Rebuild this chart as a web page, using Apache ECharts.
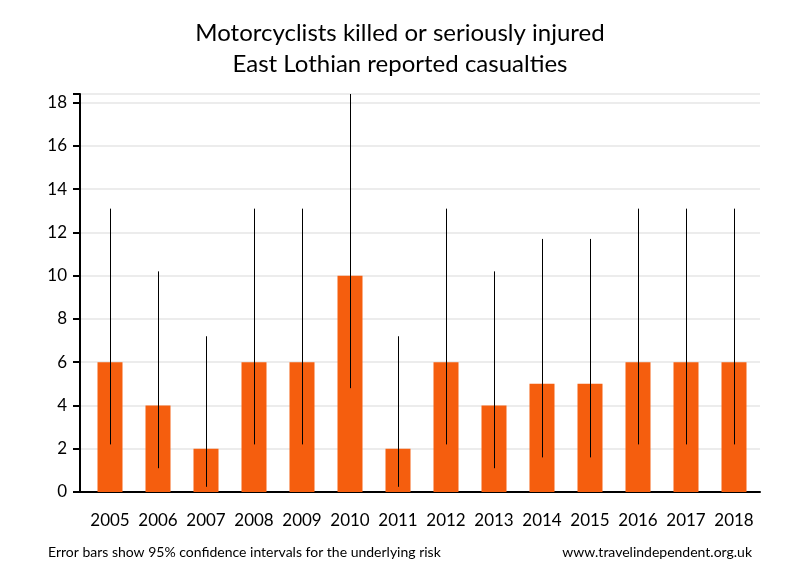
<!DOCTYPE html>
<html>
<head>
<meta charset="utf-8">
<script src="https://cdn.jsdelivr.net/npm/echarts@6/dist/echarts.min.js"></script>
<style>html,body{margin:0;padding:0;background:#fff}#c{width:800px;height:580px}</style>
</head>
<body>
<div id="c"></div>
<script>
const years = ['2005','2006','2007','2008','2009','2010','2011','2012','2013','2014','2015','2016','2017','2018'];
const casualties = [6, 4, 2, 6, 6, 10, 2, 6, 4, 5, 5, 6, 6, 6];
const lower95 = [2.2, 1.1, 0.24, 2.2, 2.2, 4.8, 0.24, 2.2, 1.1, 1.6, 1.6, 2.2, 2.2, 2.2];
const upper95 = [13.1, 10.2, 7.2, 13.1, 13.1, 18.4, 7.2, 13.1, 10.2, 11.7, 11.7, 13.1, 13.1, 13.1];
const yTicks = [0, 2, 4, 6, 8, 10, 12, 14, 16, 18];

const FONT = 'Lato';
const chart = echarts.init(document.getElementById('c'), null, {renderer: 'canvas'});
const errData = years.map((y, i) => [i, lower95[i], upper95[i]]);
const titleStyle = {fontFamily: FONT, fontSize: 24, fontWeight: 'normal', color: '#000'};

chart.setOption({
  animation: false,
  backgroundColor: '#fff',
  textStyle: {fontFamily: FONT},
  title: [
    {text: 'Motorcyclists killed or seriously injured', left: 'center', top: 16, textStyle: titleStyle},
    {text: 'East Lothian reported casualties', left: 'center', top: 47, textStyle: titleStyle}
  ],
  graphic: [
    {type: 'text', left: 48, top: 545, style: {text: 'Error bars show 95% confidence intervals for the underlying risk', font: '14px Lato', fill: '#000'}},
    {type: 'text', right: 48, top: 545, style: {text: 'www.travelindependent.org.uk', font: '14px Lato', fill: '#000'}}
  ],
  grid: [
    {left: 86, right: 42, top: 94, bottom: 88},
    {left: 80, right: 40, top: 94, bottom: 88}
  ],
  xAxis: [
    {
      type: 'category', gridIndex: 0, data: years,
      axisLine: {show: false}, axisTick: {show: false},
      axisLabel: {fontFamily: FONT, fontSize: 17, color: '#000', margin: 20, interval: 0}
    },
    {
      type: 'value', gridIndex: 1, min: 0, max: 1,
      axisLine: {show: true, lineStyle: {color: '#000', width: 2}},
      axisTick: {show: false}, axisLabel: {show: false}, splitLine: {show: false}
    }
  ],
  yAxis: [
    {
      type: 'value', gridIndex: 0, min: 0, max: 18.4, interval: 2,
      show: false, splitLine: {show: false}
    },
    {
      type: 'value', gridIndex: 1, min: 0, max: 18.4, interval: 2,
      axisLine: {show: true, lineStyle: {color: '#000', width: 2}},
      axisTick: {show: true, length: 7, lineStyle: {color: '#000', width: 2}},
      axisLabel: {fontFamily: FONT, fontSize: 17, color: '#000', margin: 13,
        formatter: v => yTicks.indexOf(v) >= 0 ? String(v) : ''},
      splitLine: {show: true, lineStyle: {color: '#e6e6e6', width: 1.5}}
    }
  ],
  series: [
    {
      type: 'bar', xAxisIndex: 0, yAxisIndex: 0, data: casualties,
      barWidth: 25, itemStyle: {color: '#F55E0E'}, z: 2
    },
    {
      type: 'custom', xAxisIndex: 0, yAxisIndex: 0, data: errData, z: 3,
      encode: {x: 0, y: [1, 2]},
      renderItem: function (params, api) {
        const lo = api.coord([api.value(0), api.value(1)]);
        const hi = api.coord([api.value(0), api.value(2)]);
        const x = Math.round(lo[0]) + 0.5;
        return {type: 'line', shape: {x1: x, y1: lo[1], x2: x, y2: hi[1]},
          style: {stroke: '#000', lineWidth: 1}};
      }
    }
  ]
});
</script>
</body>
</html>
